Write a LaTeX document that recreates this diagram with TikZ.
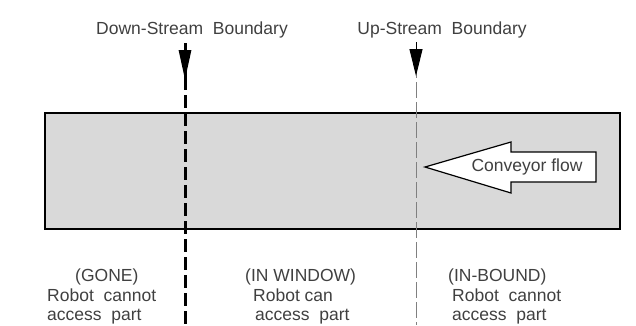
\documentclass[tikz,border=0pt]{standalone}
\usepackage{fontspec}
\setmainfont{Liberation Sans}
\usetikzlibrary{arrows.meta}
\definecolor{txt}{HTML}{404040}
\definecolor{beltgray}{HTML}{D9D9D9}
\begin{document}
\begin{tikzpicture}[x=1pt,y=-1pt,
  lbl/.style={font=\fontsize{17.5}{20}\selectfont, text=txt, inner sep=0pt},
  botlbl/.style={lbl, anchor=base west},
  dsline/.style={line width=3pt, black},
  usline/.style={line width=1pt, gray, dash pattern=on 16pt off 4pt},
  flowarrow/.style={draw=black, fill=white, line width=1.2pt, line join=miter}]
\useasboundingbox (0,0) rectangle (636,325);
% conveyor belt
\node[draw=black, fill=beltgray, line width=1.5pt, minimum width=575pt, minimum height=116pt,
      anchor=north west, inner sep=0pt] (belt) at (44,112) {};
% boundary labels
\node[lbl] (dsl) at (192,30) {Down-Stream\ \ Boundary};
\node[lbl] (usl) at (442,30) {Up-Stream\ \ Boundary};
% down-stream boundary
\coordinate (ds0) at (185,43);
\coordinate (ds1) at (185,80);
\coordinate (ds2) at (185,90);
\coordinate (ds3) at (185,95);
\coordinate (dsb) at (185,325);
\draw[dsline] (ds0) -- (ds2);
\draw[dsline, -{Triangle[length=30pt,width=12pt]}] (ds0) -- (ds1);
\draw[dsline, dash pattern=on 13pt off 5pt] (ds3) -- (dsb);
% up-stream boundary
\coordinate (us0) at (416,42);
\coordinate (us1) at (416,76);
\coordinate (usb) at (416,325);
\draw[usline] (us0) -- (usb);
\draw[line width=1pt, black, -{Triangle[length=27pt,width=13pt]}] (us0) -- (us1);
% conveyor flow arrow
\coordinate (a1) at (596,152);
\coordinate (a2) at (511,152);
\coordinate (a3) at (511,142);
\coordinate (a4) at (425,167);
\coordinate (a5) at (511,193);
\coordinate (a6) at (511,182);
\coordinate (a7) at (596,182);
\draw[flowarrow] (a1) -- (a2) -- (a3) -- (a4) -- (a5) -- (a6) -- (a7) -- cycle;
\node[lbl] (flow) at (527,167) {Conveyor flow};
% zone labels
\node[botlbl] (g1) at (75,281) {(GONE)};
\node[botlbl] (g2) at (47,301) {Robot\ \ cannot};
\node[botlbl] (g3) at (47,320) {access\ \ part};
\node[botlbl] (w1) at (245,281) {(IN WINDOW)};
\node[botlbl] (w2) at (253,301) {Robot can};
\node[botlbl] (w3) at (255,320) {access\ \ part};
\node[botlbl] (b1) at (448,281) {(IN-BOUND)};
\node[botlbl] (b2) at (452,301) {Robot\ \ cannot};
\node[botlbl] (b3) at (452,320) {access\ \ part};
\end{tikzpicture}
\end{document}
